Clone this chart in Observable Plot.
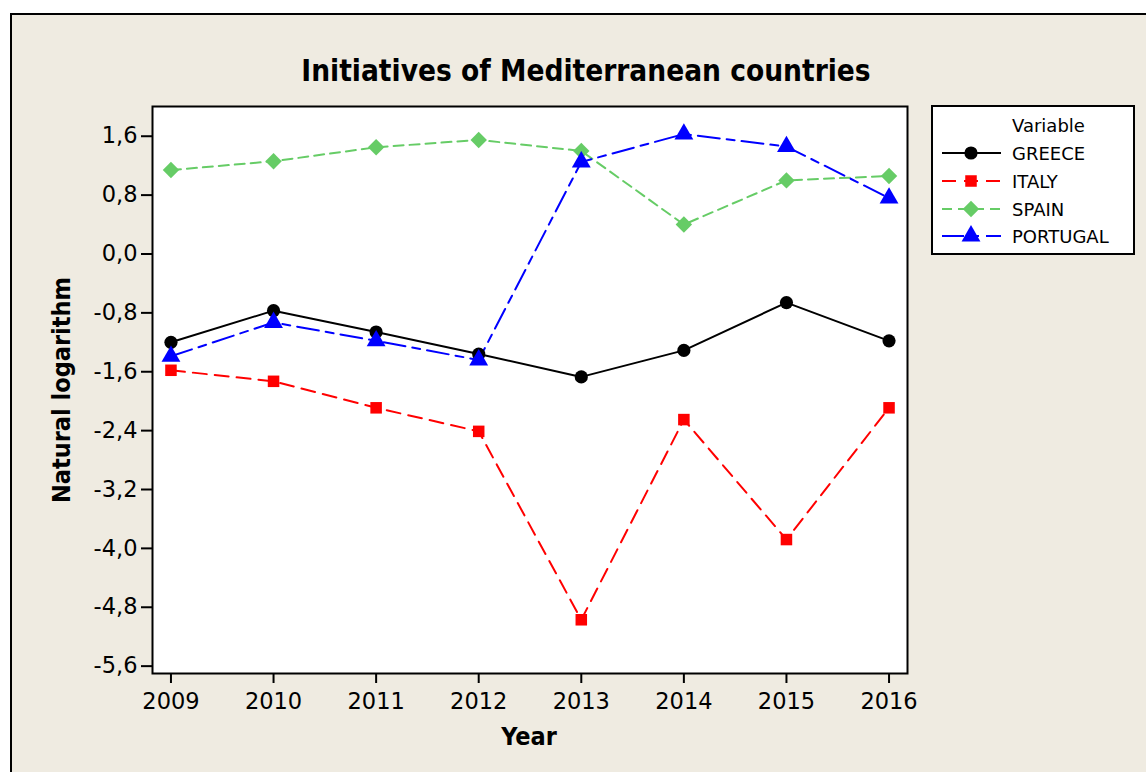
<!DOCTYPE html>
<html>
<head>
<meta charset="utf-8">
<script src="https://cdn.jsdelivr.net/npm/d3@7"></script>
<script src="https://cdn.jsdelivr.net/npm/@observablehq/plot@0.6"></script>
<style>
  html, body { margin: 0; padding: 0; background: #ffffff; overflow: hidden; width: 1146px; height: 772px; }
  #bg { position: absolute; left: 10px; top: 13px; width: 1200px; height: 800px; background: #EFEBE1; border: 2px solid #000; }
  #chart { position: absolute; left: 0; top: 0; }
</style>
</head>
<body>
<div id="bg"></div>
<div id="chart"></div>
<script>
// ---- data ----
const years = [2009, 2010, 2011, 2012, 2013, 2014, 2015, 2016];
const seriesNames = ["GREECE", "ITALY", "SPAIN", "PORTUGAL"];
const greece   = [-1.20, -0.77, -1.06, -1.36, -1.67, -1.31, -0.66, -1.18];
const italy    = [-1.58, -1.73, -2.09, -2.41, -4.97, -2.25, -3.88, -2.09];
const spain    = [ 1.14,  1.26,  1.45,  1.55,  1.40,  0.40,  1.00,  1.06];
const portugal = [-1.39, -0.93, -1.18, -1.44,  1.25,  1.63,  1.46,  0.76];
const yTicks = [1.6, 0.8, 0, -0.8, -1.6, -2.4, -3.2, -4.0, -4.8, -5.6];
const titleText = "Initiatives of Mediterranean countries";
const xLabel = "Year";
const yLabel = "Natural logarithm";
const legendTitle = "Variable";

// ---- styles ----
const seriesValues = [greece, italy, spain, portugal];
const colors = ["#000000", "#FF0000", "#66CC66", "#0000FF"];
const dashes = [null, "14,8", "10,6", "22,7,8,7"];
const symbols = ["circle", "square", "diamond2", "triangle"];
const radii = [6.6, 6.5, 7.4, 7.0];

const rows = seriesNames.flatMap((s, i) => years.map((yr, j) => ({series: s, year: yr, value: seriesValues[i][j]})));

const W = 1146, H = 772;
const mL = 152, mT = 106, mR = W - 907, mB = H - 673;

const marks = [Plot.frame({fill: "white", stroke: "none"})];
seriesNames.forEach((s, i) => {
  const d = rows.filter(r => r.series === s);
  marks.push(Plot.line(d, {x: "year", y: "value", stroke: colors[i], strokeWidth: 2, strokeDasharray: dashes[i] ?? undefined}));
});
seriesNames.forEach((s, i) => {
  const d = rows.filter(r => r.series === s);
  marks.push(Plot.dot(d, {x: "year", y: "value", symbol: () => symbols[i], r: radii[i], fill: colors[i], stroke: "none"}));
});
marks.push(Plot.frame({stroke: "black", strokeWidth: 2}));
marks.push(Plot.axisY({ticks: yTicks, tickFormat: v => v.toFixed(1).replace(".", ","), tickSize: 11, tickPadding: 4, fontSize: 22.5, strokeWidth: 2, label: null}));
marks.push(Plot.axisX({ticks: years, tickFormat: v => String(v), tickSize: 10, tickPadding: 10, fontSize: 22.5, strokeWidth: 2, label: null}));

const chart = Plot.plot({
  width: W, height: H,
  marginLeft: mL, marginTop: mT, marginRight: mR, marginBottom: mB,
  style: {background: "transparent", color: "black", fontFamily: "'DejaVu Sans', sans-serif", overflow: "visible"},
  x: {domain: [2008.82, 2016.18]},
  y: {domain: [-5.7, 2.004]},
  symbol: {type: "identity"},
  marks
});
document.getElementById("chart").appendChild(chart);

const svg = d3.select(chart);
// title
svg.append("text").attr("x", 586).attr("y", 81).attr("text-anchor", "middle")
  .attr("font-family", "'DejaVu Sans Condensed', 'DejaVu Sans', sans-serif").attr("font-weight", "bold").attr("font-size", 29.5)
  .attr("fill", "black").text(titleText);
// axis labels
svg.append("text").attr("x", 529).attr("y", 745).attr("text-anchor", "middle")
  .attr("font-family", "'DejaVu Sans Condensed', 'DejaVu Sans', sans-serif").attr("font-weight", "bold").attr("font-size", 25)
  .attr("fill", "black").text(xLabel);
svg.append("text").attr("transform", "translate(70,390) rotate(-90)").attr("text-anchor", "middle")
  .attr("font-family", "'DejaVu Sans Condensed', 'DejaVu Sans', sans-serif").attr("font-weight", "bold").attr("font-size", 25)
  .attr("fill", "black").text(yLabel);

// legend
const lg = svg.append("g").attr("text-anchor", "start");
lg.append("rect").attr("x", 932).attr("y", 106).attr("width", 202).attr("height", 148)
  .attr("fill", "white").attr("stroke", "black").attr("stroke-width", 2);
lg.append("text").attr("x", 1012).attr("y", 132).attr("text-anchor", "start").attr("font-size", 18).attr("font-family", "'DejaVu Sans', sans-serif").attr("fill", "black").text(legendTitle);
const rowY = [153, 181, 209, 236];
seriesNames.forEach((s, i) => {
  const y = rowY[i];
  lg.append("line").attr("x1", 942).attr("x2", 1001).attr("y1", y).attr("y2", y)
    .attr("stroke", colors[i]).attr("stroke-width", 2).attr("stroke-dasharray", dashes[i]);
  const sym = {circle: d3.symbolCircle, square: d3.symbolSquare, diamond2: d3.symbolDiamond2, triangle: d3.symbolTriangle}[symbols[i]];
  lg.append("path").attr("d", d3.symbol(sym, Math.PI * radii[i] * radii[i])())
    .attr("transform", `translate(971,${y})`).attr("fill", colors[i]);
  lg.append("text").attr("x", 1012).attr("y", y + 7).attr("text-anchor", "start").attr("font-size", 18).attr("font-family", "'DejaVu Sans', sans-serif").attr("fill", "black").text(s);
});
</script>
</body>
</html>
